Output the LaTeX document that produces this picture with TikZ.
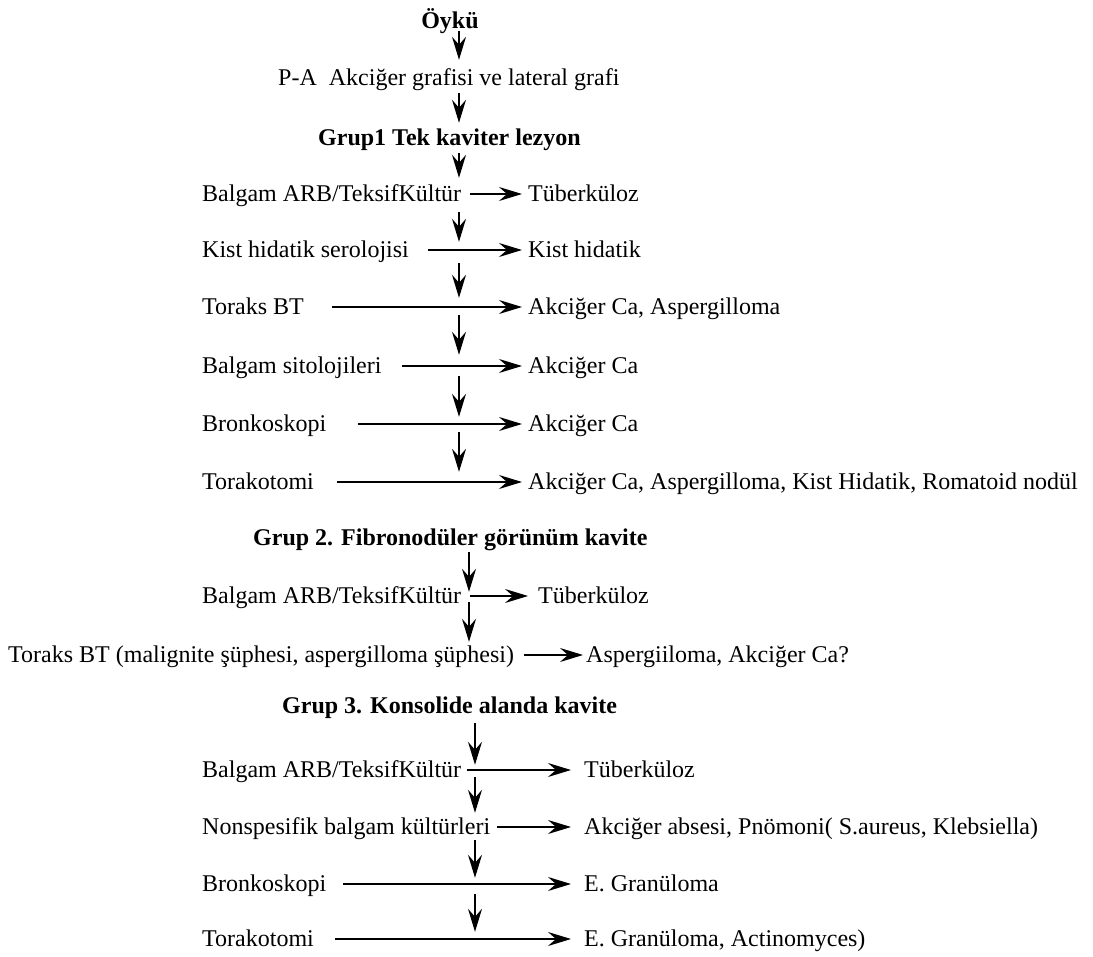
\documentclass[tikz,border=0pt]{standalone}
\usepackage{fontspec}
\setmainfont{Liberation Serif}
\usetikzlibrary{arrows.meta}

\tikzset{
  lbl/.style={anchor=west, inner sep=0pt, text height=17pt, text depth=2pt,
    font=\fontsize{24}{28}\selectfont},
  hdr/.style={lbl, font=\fontsize{24}{28}\selectfont\bfseries},
  arr/.style={-{Stealth[length=23pt,width=14pt,inset=8pt]}, line width=1.5pt},
}

\begin{document}
\begin{tikzpicture}[x=1pt,y=-1pt]
  \useasboundingbox (0,0) rectangle (1093,957);
  \coordinate (c1) at (459,0);
  \coordinate (c2) at (469,0);
  \coordinate (c3) at (475,0);

  \node[hdr,anchor=center] (oyku) at (450,21.5) {Öykü};
  \node[lbl] (pa) at (278,78.5) {P-A\ \ Akciğer grafisi ve lateral grafi};
  \node[hdr] (g1) at (318,138.5) {Grup1 Tek kaviter lezyon};

  % Grup 1
  \foreach \n/\y/\sx/\lt/\rt in {
    1/194/470/{Balgam ARB/TeksifKültür}/{Tüberküloz},
    2/250/428/{Kist hidatik serolojisi}/{Kist hidatik},
    3/307/332/{Toraks BT}/{Akciğer Ca, Aspergilloma},
    4/366/402/{Balgam sitolojileri}/{Akciğer Ca},
    5/424/358/{Bronkoskopi}/{Akciğer Ca},
    6/482/337/{Torakotomi}/{Akciğer Ca, Aspergilloma, Kist Hidatik, Romatoid nodül}}{
    \node[lbl] (a\n) at (202,\y) {\lt};
    \node[lbl] (ar\n) at (528,\y) {\rt};
    \coordinate (as\n) at (\sx,\y);
    \draw[arr, shorten >=6pt] (as\n) -- (ar\n);
  }

  % Grup 2
  \node[hdr] (g2) at (253,537.5) {Grup 2. Fibronodüler görünüm kavite};
  \node[lbl] (b1) at (202,596) {Balgam ARB/TeksifKültür};
  \node[lbl] (br1) at (538,596) {Tüberküloz};
  \node[lbl] (b2) at (8,655) {Toraks BT (malignite şüphesi, aspergilloma şüphesi)};
  \node[lbl] (br2) at (586,655) {Aspergiiloma, Akciğer Ca?};
  \coordinate (bs1) at (470,596);
  \coordinate (bs2) at (524,655);
  \draw[arr, shorten >=10pt] (bs1) -- (br1);
  \draw[arr, shorten >=3pt] (bs2) -- (br2);

  % Grup 3
  \node[hdr] (g3) at (282,705.5) {Grup 3. Konsolide alanda kavite};
  \foreach \n/\y/\sx/\lt/\rt in {
    1/770/467/{Balgam ARB/TeksifKültür}/{Tüberküloz},
    2/827/497/{Nonspesifik balgam kültürleri}/{Akciğer absesi, Pnömoni( S.aureus, Klebsiella)},
    3/884/343/{Bronkoskopi}/{E. Granüloma},
    4/939/335/{Torakotomi}/{E. Granüloma, Actinomyces)}}{
    \node[lbl] (k\n) at (202,\y) {\lt};
    \node[lbl] (kr\n) at (584,\y) {\rt};
    \coordinate (ks\n) at (\sx,\y);
    \draw[arr, shorten >=13pt] (ks\n) -- (kr\n);
  }

  % vertical flow
  \foreach \p/\q/\c/\sa/\sb in {oyku/pa/c1/0/9, pa/g1/c1/5/6, g1/a1/c1/5/6.5,
    a1/a2/c1/8.5/-1.5, a2/a3/c1/3.5/-0.5, a3/a4/c1/-1.5/1.5, a4/a5/c1/0/-2.5, a5/a6/c1/-1.5/0.5,
    g2/b1/c2/5/-5.5, b1/b2/c2/-3.5/3.5,
    g3/k1/c3/8/-4.5, k1/k2/c3/-2.5/4.5, k2/k3/c3/3.5/-3.5, k3/k4/c3/0/-2.5}
    \draw[arr, shorten <=\sa pt, shorten >=\sb pt] (\p.south -| \c) -- (\q.north -| \c);
\end{tikzpicture}
\end{document}
